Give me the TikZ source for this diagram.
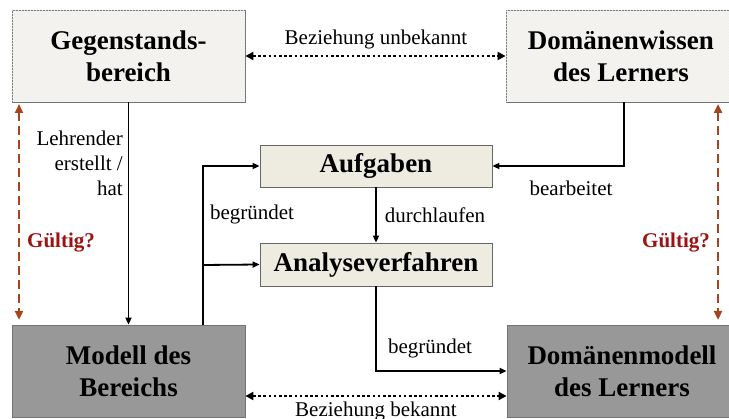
\documentclass[tikz,border=0pt]{standalone}
\usepackage{fontspec}
\setmainfont{Liberation Serif}
\usetikzlibrary{arrows.meta,patterns}
\definecolor{paleboxfill}{HTML}{F6F5F1}
\definecolor{beigefill}{HTML}{EEECE1}
\definecolor{modelfill}{HTML}{989898}
\definecolor{validarrow}{HTML}{A8441C}
\definecolor{validtext}{HTML}{9A1414}
\tikzset{
  titlefont/.style={font=\fontsize{27}{32}\selectfont\bfseries},
  labelfont/.style={font=\fontsize{21}{25}\selectfont},
  bigbox/.style={draw=black!55, line width=0.8pt, minimum width=233pt, minimum height=92pt,
    inner sep=0pt, align=center, titlefont},
  palebox/.style={bigbox, fill=paleboxfill, postaction={pattern=north east lines, pattern color=black!7}},
  modelbox/.style={bigbox, fill=modelfill},
  midbox/.style={draw=black!60, line width=0.8pt, fill=beigefill, minimum width=232pt,
    minimum height=42pt, inner sep=0pt, titlefont},
  flow/.style={line width=1.8pt, -{Triangle[length=7pt,width=6pt]}},
  relation/.style={line width=2.8pt, dash pattern=on 2.6pt off 2.6pt,
    {Triangle[length=8pt,width=8pt]}-{Triangle[length=8pt,width=8pt]}},
  validity/.style={validarrow, line width=2.6pt, dash pattern=on 9pt off 5pt,
    {Triangle[length=9pt,width=8pt]}-{Triangle[length=9pt,width=8pt]}},
  lbl/.style={labelfont, inner sep=0pt},
  validlbl/.style={font=\fontsize{21}{25}\selectfont\bfseries, text=validtext, inner sep=0pt}
}
\begin{document}
\begin{tikzpicture}[x=1pt,y=-1pt]
\useasboundingbox (0,0) rectangle (729,419);
\clip (0,0) rectangle (729,419);

% boxes
\node[palebox] (gb) at (128.5,56) {Gegenstands-\\bereich};
\node[palebox, minimum width=230pt] (dw) at (621,56) {Domänenwissen\\des Lerners};
\node[midbox] (auf) at (376,166) {Aufgaben};
\node[midbox, minimum height=43pt] (ana) at (376,264.5) {Analyseverfahren};
\node[modelbox] (mb) at (128.5,371) {Modell des\\Bereichs};
\node[modelbox, minimum width=230pt] (dm) at (622,371) {Domänenmodell\\des Lerners};

% helper coordinates
\coordinate (split) at (203,265);
\coordinate (drop) at (624,0);
\coordinate (known) at (0,396);
\coordinate (vlt) at (19,104);
\coordinate (vlb) at (19,320);
\coordinate (vrt) at (718,104);
\coordinate (vrb) at (718,320);

% solid flows
\draw[flow] (gb.south) -- (mb.north);
\draw[line width=1.8pt] (split |- mb.north) -- (split);
\draw[flow] (split) |- (auf.west);
\draw[flow] (split) -- (ana.west);
\draw[flow] (auf.south) -- (ana.north);
\draw[flow] (ana.south) |- (dm.west);
\draw[flow] (drop |- dw.south) |- (auf.east);

% dotted relations
\draw[relation] (gb.east) -- (dw.west);
\draw[relation] (mb.east |- known) -- (dm.west |- known);

% validity arrows
\draw[validity] (vlt) -- (vlb);
\draw[validity] (vrt) -- (vrb);

% labels
\node[lbl] (unb) at (376,39) {Beziehung unbekannt};
\node[lbl, anchor=north] (bek) at (376,402) {Beziehung bekannt};
\node[lbl, align=right, anchor=north east] (lehr) at (123,131) {Lehrender\\erstellt /\\hat};
\node[lbl] (begr1) at (252,214) {begründet};
\node[lbl] (durch) at (435,215) {durchlaufen};
\node[lbl] (bearb) at (571,188) {bearbeitet};
\node[lbl] (begr2) at (430,348) {begründet};
\node[validlbl] (gl) at (61,243) {Gültig?};
\node[validlbl] (gr) at (676,243) {Gültig?};
\end{tikzpicture}
\end{document}
